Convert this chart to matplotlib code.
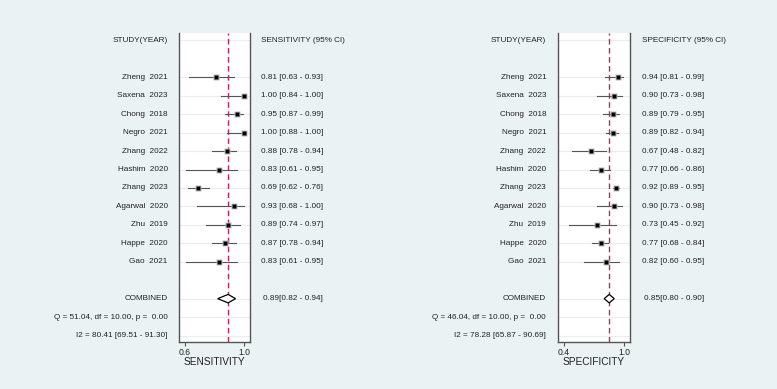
import matplotlib.pyplot as plt
from matplotlib.patches import Polygon

plt.rcParams["font.family"] = ["Liberation Sans", "DejaVu Sans"]

studies = ["Zheng  2021", "Saxena  2023", "Chong  2018", "Negro  2021", "Zhang  2022",
           "Hashim  2020", "Zhang  2023", "Agarwal  2020", "Zhu  2019", "Happe  2020", "Gao  2021"]

sens = [0.81, 1.00, 0.95, 1.00, 0.88, 0.83, 0.69, 0.93, 0.89, 0.87, 0.83]
sens_lo = [0.63, 0.84, 0.87, 0.88, 0.78, 0.61, 0.62, 0.68, 0.74, 0.78, 0.61]
sens_hi = [0.93, 1.00, 0.99, 1.00, 0.94, 0.95, 0.76, 1.00, 0.97, 0.94, 0.95]
sens_pooled = (0.89, 0.82, 0.94)
sens_q = "Q = 51.04, df = 10.00, p =  0.00"
sens_i2 = "I2 = 80.41 [69.51 - 91.30]"

spec = [0.94, 0.90, 0.89, 0.89, 0.67, 0.77, 0.92, 0.90, 0.73, 0.77, 0.82]
spec_lo = [0.81, 0.73, 0.79, 0.82, 0.48, 0.66, 0.89, 0.73, 0.45, 0.68, 0.60]
spec_hi = [0.99, 0.98, 0.95, 0.94, 0.82, 0.86, 0.95, 0.98, 0.92, 0.84, 0.95]
spec_pooled = (0.85, 0.80, 0.90)
spec_q = "Q = 46.04, df = 10.00, p =  0.00"
spec_i2 = "I2 = 78.28 [65.87 - 90.69]"

BG = "#eaf2f3"
TXT = "#222222"
RED = "#c8245a"
FS = 5.9


def forest(fig, rect, est, lo, hi, pooled, q_text, i2_text, xlim, ticks, name):
    ax = fig.add_axes(rect)
    ax.set_facecolor("white")
    study_rows = list(range(2, 2 + len(studies)))
    comb_row, q_row, i2_row = 14, 15, 16
    ax.set_ylim(16.35, -0.4)
    ax.set_xlim(*xlim)

    for r in [0] + study_rows + [comb_row, q_row, i2_row]:
        ax.axhline(r, color="#ececec", lw=0.8, zorder=0)

    ax.axvline(pooled[0], color=RED, lw=1.0, ls=(0, (4, 2.5)), zorder=1)

    for r, e, l, h in zip(study_rows, est, lo, hi):
        ax.plot([l, h], [r, r], color="#555555", lw=0.8, zorder=2)
        ax.plot(e, r, marker="s", ms=4.2, color="#bdbdbd", mec="none", zorder=3)
        ax.plot(e, r, marker="s", ms=2.3, color="black", mec="none", zorder=4)

    p, pl, ph = pooled
    dia = Polygon([(pl, comb_row), (p, comb_row - 0.23), (ph, comb_row), (p, comb_row + 0.23)],
                  closed=True, facecolor="white", edgecolor="black", lw=0.9, zorder=3)
    ax.add_patch(dia)

    ax.spines["top"].set_visible(False)
    for s in ["left", "right", "bottom"]:
        ax.spines[s].set_color("#555555")
        ax.spines[s].set_linewidth(1.0)

    ax.set_yticks([])
    ax.set_xticks(ticks)
    ax.set_xticklabels([f"{t:.1f}" for t in ticks])
    ax.tick_params(axis="x", direction="out", length=3, width=0.8, color="#555555",
                   labelsize=6.2, labelcolor=TXT, pad=1)
    ax.set_xlabel(name, fontsize=7.3, color=TXT, labelpad=0)

    left_x = -0.16
    right_x = 1.16
    tr = ax.get_yaxis_transform()
    ax.text(left_x, 0, "STUDY(YEAR)", transform=tr, ha="right", va="center", fontsize=FS, color=TXT)
    ax.text(right_x, 0, f"{name} (95% CI)", transform=tr, ha="left", va="center", fontsize=FS, color=TXT)
    for r, s, e, l, h in zip(study_rows, studies, est, lo, hi):
        ax.text(left_x, r, s, transform=tr, ha="right", va="center", fontsize=FS, color=TXT)
        ax.text(right_x, r, f"{e:.2f} [{l:.2f} - {h:.2f}]", transform=tr, ha="left", va="center",
                fontsize=FS, color=TXT)
    ax.text(left_x, comb_row, "COMBINED", transform=tr, ha="right", va="center", fontsize=FS, color=TXT)
    ax.text(right_x + 0.03, comb_row, f"{p:.2f}[{pl:.2f} - {ph:.2f}]", transform=tr, ha="left",
            va="center", fontsize=FS, color=TXT)
    ax.text(left_x, q_row, q_text, transform=tr, ha="right", va="center", fontsize=FS, color=TXT)
    ax.text(left_x, i2_row, i2_text, transform=tr, ha="right", va="center", fontsize=FS, color=TXT)
    return ax


fig = plt.figure(figsize=(7.77, 3.89), dpi=100)
fig.patch.set_facecolor(BG)

forest(fig, [179 / 777, 1 - 342 / 389, 71 / 777, 309 / 389], sens, sens_lo, sens_hi, sens_pooled,
       sens_q, sens_i2, (0.56, 1.037), [0.6, 1.0], "SENSITIVITY")
forest(fig, [557.7 / 777, 1 - 342 / 389, 72.3 / 777, 309 / 389], spec, spec_lo, spec_hi, spec_pooled,
       spec_q, spec_i2, (0.337, 1.057), [0.4, 1.0], "SPECIFICITY")

fig.savefig("out.png", dpi=100, facecolor=BG)
